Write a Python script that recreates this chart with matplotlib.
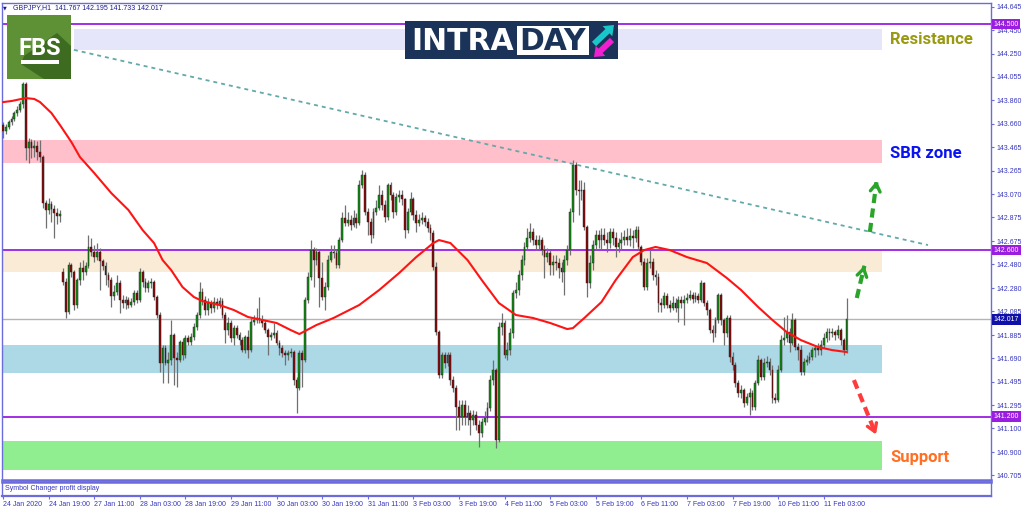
import matplotlib
matplotlib.use('Agg')
import matplotlib.pyplot as plt
from matplotlib.patches import Rectangle, Polygon, FancyArrow
from matplotlib.transforms import blended_transform_factory

plt.rcParams['font.family'] = ['Liberation Sans', 'DejaVu Sans']

# ---------------- data ----------------
symbol_title = "GBPJPY,H1  141.767 142.195 141.733 142.017"
time_labels = ['24 Jan 2020', '24 Jan 19:00', '27 Jan 11:00', '28 Jan 03:00', '28 Jan 19:00',
               '29 Jan 11:00', '30 Jan 03:00', '30 Jan 19:00', '31 Jan 11:00', '3 Feb 03:00',
               '3 Feb 19:00', '4 Feb 11:00', '5 Feb 03:00', '5 Feb 19:00', '6 Feb 11:00',
               '7 Feb 03:00', '7 Feb 19:00', '10 Feb 11:00', '11 Feb 03:00']
label_bars = [0, 16, 32, 48, 64, 80, 96, 112, 128, 144, 160, 176, 192, 208, 224, 240, 256, 272, 288]

gap_opens = {0: 143.651, 21: 142.415}

closes = [
    143.601, 143.634, 143.676, 143.702, 143.752, 143.777, 143.828, 143.996, 143.458, 143.508,
    143.458, 143.475, 143.424, 143.382, 142.995, 142.937, 142.987, 142.945, 142.911, 142.886,
    142.903,
    142.331, 142.079, 142.474, 142.415, 142.138, 142.348, 142.449, 142.415, 142.466, 142.625,
    142.583, 142.541, 142.583, 142.508, 142.466, 142.390, 142.348, 142.214, 142.247, 142.323,
    142.180, 142.155, 142.180, 142.138, 142.163, 142.239, 142.180, 142.415, 142.331, 142.281,
    142.323, 142.331, 142.205, 142.054, 141.650, 141.776, 141.650, 141.675, 141.886, 141.692,
    141.675, 141.827, 141.718, 141.860, 141.827, 141.869, 141.953, 142.054, 142.247, 142.180,
    142.096, 142.155, 142.113, 142.163, 142.138, 142.171, 142.054, 141.928, 141.987, 141.860,
    141.944, 141.886, 141.844, 141.760, 141.869, 141.760, 141.995, 142.012, 142.029, 142.012,
    141.987, 141.928, 141.869, 141.886, 141.903, 141.818, 141.776, 141.734, 141.718, 141.734,
    141.743, 141.507, 141.440,
    141.734, 141.675, 142.180, 142.373, 142.600, 142.516, 142.583, 142.365, 142.205, 142.289,
    142.516, 142.583, 142.575, 142.474, 142.684, 142.869, 142.827, 142.852, 142.810, 142.869,
    142.827, 143.147, 143.231, 142.920, 142.836, 142.726, 142.920, 142.953, 143.063, 142.979,
    142.878, 143.147, 143.063, 142.920, 143.046, 143.063, 143.029, 142.768, 142.920, 143.029,
    142.895, 142.827, 142.852, 142.869, 142.836, 142.785, 142.743, 142.457, 141.911, 141.549,
    141.718, 141.650, 141.718, 141.507, 141.440, 141.280, 141.196, 141.297, 141.196, 141.230,
    141.171, 141.213, 141.129, 141.062, 141.154, 141.188, 141.272, 141.507, 141.591, 141.003,
    141.953, 141.987, 141.718, 141.760, 141.903, 142.239, 142.264, 142.390, 142.516, 142.625,
    142.701, 142.752, 142.684, 142.642, 142.684, 142.600, 142.541, 142.575, 142.474, 142.499,
    142.491, 142.449, 142.415, 142.516, 142.600, 142.920, 143.315, 143.105, 143.096, 143.105,
    142.794, 142.323, 142.491, 142.642, 142.726, 142.684,
    142.726, 142.684, 142.659, 142.752, 142.701, 142.625, 142.659, 142.684, 142.710, 142.684,
    142.718, 142.701, 142.768, 142.625, 142.499, 142.289, 142.491, 142.499, 142.390, 142.373,
    142.155, 142.138, 142.214, 142.138, 142.113, 142.155, 142.113, 142.180, 142.155, 142.180,
    142.197, 142.222, 142.188, 142.214, 142.180, 142.323, 142.155, 142.096, 141.928, 141.903,
    142.012, 142.222, 142.012, 141.903, 142.029, 141.701, 141.633, 141.482, 141.398, 141.423,
    141.314, 141.364, 141.398, 141.280, 141.482, 141.675, 141.533, 141.650, 141.659, 141.591,
    141.356, 141.339, 141.591, 141.844, 141.860, 141.911, 141.818, 142.012, 141.785, 141.760,
    141.575, 141.659, 141.675, 141.701, 141.760, 141.776, 141.760, 141.802, 141.860, 141.911,
    141.903, 141.911, 141.886, 141.928, 141.844, 141.760, 142.017]

highs = [
    143.676, 143.660, 143.693, 143.727, 143.769, 143.811, 143.853, 144.013, 144.013, 143.542,
    143.533, 143.525, 143.517, 143.525, 143.399, 143.021, 143.038, 143.012, 142.979, 142.953,
    142.937,
    142.449, 142.365, 142.499, 142.491, 142.432, 142.365, 142.499, 142.516, 142.499, 142.726,
    142.701, 142.642, 142.659, 142.617, 142.525, 142.499, 142.415, 142.373, 142.306, 142.390,
    142.348, 142.222, 142.214, 142.205, 142.197, 142.264, 142.264, 142.449, 142.432, 142.365,
    142.348, 142.365, 142.348, 142.222, 142.079, 141.802, 141.802, 141.743, 142.012, 141.903,
    141.743, 141.844, 141.860, 141.886, 141.886, 141.903, 141.987, 142.079, 142.331, 142.281,
    142.214, 142.197, 142.180, 142.205, 142.197, 142.205, 142.197, 142.079, 142.037, 142.012,
    141.970, 141.970, 141.911, 141.869, 141.886, 141.928, 142.029, 142.054, 142.113, 142.205,
    142.054, 142.012, 141.944, 141.911, 141.987, 141.928, 141.844, 141.802, 141.760, 141.760,
    141.776, 141.760, 141.533,
    141.760, 141.760, 142.205, 142.415, 142.684, 142.625, 142.617, 142.600, 142.499, 142.331,
    142.558, 142.642, 142.642, 142.600, 142.710, 142.920, 142.979, 142.920, 142.895, 142.937,
    142.911, 143.189, 143.273, 143.256, 142.953, 142.869, 142.953, 143.021, 143.147, 143.105,
    143.021, 143.164, 143.172, 143.088, 143.080, 143.105, 143.105, 143.038, 142.953, 143.088,
    143.046, 142.937, 142.903, 142.920, 142.895, 142.869, 142.819, 142.768, 142.499, 141.928,
    141.743, 141.743, 141.743, 141.743, 141.541, 141.465, 141.339, 141.339, 141.339, 141.297,
    141.255, 141.255, 141.247, 141.171, 141.188, 141.247, 141.322, 141.549, 141.675, 141.608,
    141.995, 142.071, 142.012, 141.827, 141.944, 142.264, 142.331, 142.432, 142.558, 142.667,
    142.785, 142.827, 142.785, 142.726, 142.726, 142.710, 142.642, 142.617, 142.600, 142.558,
    142.558, 142.533, 142.499, 142.558, 142.642, 142.953, 143.357, 143.340, 143.189, 143.189,
    143.172, 142.810, 142.558, 142.684, 142.768, 142.768,
    142.785, 142.785, 142.752, 142.785, 142.785, 142.752, 142.701, 142.752, 142.768, 142.785,
    142.785, 142.768, 142.802, 142.802, 142.642, 142.533, 142.533, 142.600, 142.533, 142.432,
    142.407, 142.197, 142.247, 142.239, 142.180, 142.214, 142.197, 142.214, 142.214, 142.222,
    142.239, 142.264, 142.247, 142.247, 142.239, 142.348, 142.331, 142.180, 142.113, 141.970,
    142.037, 142.239, 142.239, 142.029, 142.054, 142.054, 141.743, 141.659, 141.507, 141.465,
    141.440, 141.398, 141.440, 141.423, 141.507, 141.718, 141.692, 141.692, 141.709, 141.692,
    141.633, 141.398, 141.633, 141.886, 142.037, 142.054, 141.944, 142.071, 142.029, 141.818,
    141.802, 141.692, 141.718, 141.743, 141.785, 141.802, 141.818, 141.844, 141.903, 141.944,
    141.944, 141.944, 141.928, 141.970, 141.944, 141.860, 142.195]

lows = [
    143.542, 143.575, 143.617, 143.651, 143.685, 143.727, 143.760, 143.794, 143.357, 143.332,
    143.374, 143.382, 143.357, 143.340, 142.953, 142.785, 142.903, 142.836, 142.701, 142.819,
    142.836,
    142.306, 142.029, 142.062, 142.373, 142.096, 142.113, 142.306, 142.348, 142.390, 142.449,
    142.550, 142.499, 142.516, 142.264, 142.432, 142.306, 142.289, 142.121, 142.180, 142.222,
    142.071, 142.113, 142.104, 142.113, 142.121, 142.138, 142.155, 142.163, 142.289, 142.247,
    142.247, 142.281, 142.180, 142.029, 141.575, 141.482, 141.633, 141.482, 141.633, 141.465,
    141.448, 141.659, 141.675, 141.692, 141.802, 141.802, 141.844, 141.928, 142.029, 142.138,
    142.054, 142.054, 142.071, 142.079, 142.104, 142.113, 142.029, 141.818, 141.886, 141.827,
    141.802, 141.860, 141.802, 141.743, 141.734, 141.692, 141.743, 141.970, 141.987, 141.987,
    141.953, 141.903, 141.718, 141.844, 141.860, 141.802, 141.718, 141.701, 141.633, 141.675,
    141.701, 141.465, 141.230,
    141.423, 141.448, 141.659, 142.155, 142.348, 142.289, 142.474, 142.121, 142.180, 142.096,
    142.264, 142.499, 142.533, 142.449, 142.449, 142.667, 142.802, 142.802, 142.768, 142.794,
    142.785, 142.810, 143.121, 142.895, 142.726, 142.659, 142.701, 142.895, 142.937, 142.937,
    142.836, 142.852, 143.021, 142.869, 142.895, 143.004, 142.979, 142.701, 142.743, 142.895,
    142.852, 142.752, 142.802, 142.819, 142.802, 142.752, 142.684, 142.432, 141.886, 141.524,
    141.524, 141.608, 141.625, 141.465, 141.406, 141.087, 141.087, 141.129, 141.129, 141.129,
    141.045, 141.129, 141.087, 140.944, 141.028, 141.129, 141.154, 141.247, 141.465, 140.935,
    140.986, 141.886, 141.692, 141.675, 141.718, 141.860, 142.197, 142.222, 142.348, 142.474,
    142.600, 142.667, 142.642, 142.600, 142.600, 142.558, 142.365, 142.499, 142.390, 142.390,
    142.432, 142.365, 142.331, 142.222, 142.474, 142.558, 142.836, 143.063, 142.895, 143.021,
    142.768, 142.205, 142.281, 142.432, 142.600, 142.617,
    142.600, 142.642, 142.583, 142.617, 142.642, 142.541, 142.583, 142.600, 142.642, 142.642,
    142.634, 142.617, 142.667, 142.600, 142.474, 142.264, 142.264, 142.449, 142.348, 142.306,
    142.079, 142.079, 142.113, 142.113, 142.079, 142.096, 142.079, 141.995, 142.113, 141.970,
    142.155, 142.180, 142.155, 142.163, 142.155, 142.163, 142.129, 142.054, 141.903, 141.827,
    141.869, 141.987, 141.970, 141.802, 141.869, 141.659, 141.591, 141.448, 141.364, 141.356,
    141.280, 141.297, 141.213, 141.255, 141.255, 141.465, 141.507, 141.507, 141.617, 141.549,
    141.314, 141.314, 141.322, 141.575, 141.802, 141.827, 141.743, 141.802, 141.760, 141.675,
    141.549, 141.549, 141.633, 141.650, 141.675, 141.701, 141.718, 141.718, 141.776, 141.827,
    141.844, 141.869, 141.844, 141.860, 141.802, 141.718, 141.733]

# moving average (read at selected bars)
ma_bars = [0, 3, 8, 11, 13, 17, 20, 24, 27, 32, 38, 44, 49, 53, 56, 59, 63, 67, 70, 76,
           81, 86, 91, 96, 101, 104, 110, 116, 125, 132, 139, 145, 151, 153, 157, 163, 168, 174, 180, 186,
           192, 198, 200, 204, 210, 215, 221, 225, 229, 234, 240, 247, 254, 259, 265, 270, 275, 280, 286, 291,
           296]
ma_vals = [143.844, 143.853, 143.878, 143.870, 143.844, 143.752, 143.651, 143.508, 143.382, 143.248,
           143.079, 142.937, 142.768, 142.659, 142.516, 142.432, 142.289, 142.205, 142.171, 142.138,
           142.096, 142.037, 142.012, 141.987, 141.927, 141.894, 141.970, 142.029, 142.138, 142.264,
           142.407, 142.541, 142.659, 142.684, 142.659, 142.516, 142.348, 142.155, 142.054, 142.029,
           141.987, 141.936, 141.944, 142.029, 142.163, 142.348, 142.541, 142.600, 142.626, 142.600,
           142.541, 142.491, 142.365, 142.264, 142.121, 142.012, 141.911, 141.843, 141.785, 141.759,
           141.743]

price_ticks = [144.645, 144.450, 144.250, 144.055, 143.860, 143.660, 143.465, 143.265, 143.070,
               142.875, 142.675, 142.480, 142.280, 142.085, 141.885, 141.690, 141.495, 141.295,
               141.100, 140.900, 140.705]
level_lines = [144.500, 142.600, 141.200]
current_price = 142.017

resistance_zone = (144.281, 144.458)
sbr_zone = (143.332, 143.525)
upper_zone = (142.415, 142.592)
lower_zone = (141.566, 141.802)
support_zone = (140.751, 140.995)
zone_start_resistance = 24.9
zone_end = 308.4

trend_bars = [24.9, 324.6]
trend_prices = [144.283, 142.642]

arrow_up1 = [(299.6, 142.197), (302.5, 142.491)]
arrow_up2 = [(304.2, 142.752), (306.7, 143.206)]
arrow_down = [(298.6, 141.507), (306.7, 141.028)]

# ---------------- figure ----------------
W, H = 1024, 511
fig = plt.figure(figsize=(W / 100, H / 100), dpi=100)
fig.patch.set_facecolor('white')

def fr(x0, y0, x1, y1):
    return [x0 / W, 1 - y1 / H, (x1 - x0) / W, (y1 - y0) / H]

axis_col = '#6b6bdb'
lab_col = '#3535c0'

ax = fig.add_axes(fr(2, 3, 991, 480))
XMIN, XMAX = -0.35, 346.7
ax.set_xlim(XMIN, XMAX)
ax.set_ylim(140.667, 144.677)

# zones
def zone(lo_hi, color, x0=XMIN, x1=zone_end):
    ax.fill_between([x0, x1], lo_hi[0], lo_hi[1], color=color, lw=0, zorder=0)

zone(resistance_zone, '#e6e6fa', x0=zone_start_resistance)
zone(sbr_zone, '#ffc0cb')
zone(upper_zone, '#faebd7')
zone(lower_zone, '#add8e6')
zone(support_zone, '#90ee90')

for lv in level_lines:
    ax.axhline(lv, color='#9a1ee0', lw=1.3, zorder=1)
ax.axhline(current_price, color='#b4b4b4', lw=1.0, zorder=1)

# candles
n = len(closes)
opens = []
for i in range(n):
    opens.append(gap_opens[i] if i in gap_opens else closes[i - 1])
xs = list(range(n))
hi = [max(h, o, c) for h, o, c in zip(highs, opens, closes)]
lo = [min(l, o, c) for l, o, c in zip(lows, opens, closes)]
ax.vlines(xs, lo, hi, color='#707070', lw=0.9, zorder=2)
bottoms = [min(o, c) for o, c in zip(opens, closes)]
heights = [max(abs(c - o), 0.004) for o, c in zip(opens, closes)]
cols = ['#109010' if c >= o else '#8b0a0a' for o, c in zip(opens, closes)]
ax.bar(xs, heights, bottom=bottoms, width=0.64, color=cols, edgecolor='#202020',
       linewidth=0.3, zorder=3)

# moving average
ax.plot(ma_bars, ma_vals, color='#ff1414', lw=1.5, zorder=4, solid_capstyle='round')

# trend line
ax.plot(trend_bars, trend_prices, color='#63a9a9', lw=1.3, ls=(0, (2.2, 2.2)), zorder=4)

# dashed arrows
def dashed_arrow(pts, color):
    (x0, y0), (x1, y1) = pts
    ax.plot([x0, x1 - (x1 - x0) * 0.08], [y0, y1 - (y1 - y0) * 0.08], color=color, lw=3,
            ls=(0, (2.2, 1.3)), zorder=6, clip_on=False)
    ax.annotate('', xy=(x1, y1), xytext=(x1 - (x1 - x0) * 0.2, y1 - (y1 - y0) * 0.2),
                arrowprops=dict(arrowstyle='->,head_length=0.55,head_width=0.35', color=color,
                                lw=2.4), zorder=6, annotation_clip=False)

dashed_arrow(arrow_up1, '#2aa52a')
dashed_arrow(arrow_up2, '#2aa52a')
dashed_arrow(arrow_down, '#ff3b3b')

# zone captions
ax.text(311.2, 144.330, 'Resistance', color='#9a9a12', fontsize=12, fontweight='bold',
        family=['Roboto', 'DejaVu Sans'], va='baseline', ha='left', zorder=7, clip_on=False)
ax.text(311.2, 143.371, 'SBR zone', color='#0a14f0', fontsize=12, fontweight='bold',
        family=['Roboto', 'DejaVu Sans'], va='baseline', ha='left', zorder=7, clip_on=False)
ax.text(311.5, 140.816, 'Support', color='#ff6f24', fontsize=12, fontweight='bold',
        family=['Roboto', 'DejaVu Sans'], va='baseline', ha='left', zorder=7, clip_on=False)

# right axis
ax.yaxis.tick_right()
ax.set_yticks(price_ticks)
ax.set_yticklabels([f'{v:.3f}' for v in price_ticks])
ax.tick_params(axis='y', which='both', length=2.5, width=0.8, color=axis_col,
               labelsize=5, labelcolor=lab_col, pad=1.5)
ax.set_xticks([])
for s in ax.spines.values():
    s.set_color(axis_col)
    s.set_linewidth(1.0)
ax.spines['bottom'].set_linewidth(1.8)

tr = blended_transform_factory(ax.transAxes, ax.transData)
for v, fc in [(144.500, '#9a1ee0'), (142.600, '#9a1ee0'), (current_price, '#1010a8'), (141.200, '#9a1ee0')]:
    ax.text(1.0025, v, f'{v:.3f}', transform=tr, fontsize=5, color='white', va='center', ha='left',
            bbox=dict(boxstyle='square,pad=0.25', fc=fc, ec='none'), zorder=8, clip_on=False)

# sub panel
ax2 = fig.add_axes(fr(2, 482, 991, 496))
ax2.set_xlim(XMIN, XMAX)
ax2.set_ylim(0, 1)
ax2.set_yticks([])
ax2.set_xticks(label_bars)
ax2.set_xticklabels(time_labels)
for t in ax2.get_xticklabels():
    t.set_ha('left')
ax2.tick_params(axis='x', length=2.5, width=0.8, color=axis_col, labelsize=5,
                labelcolor=lab_col, pad=1.2)
for s in ax2.spines.values():
    s.set_color(axis_col)
    s.set_linewidth(1.0)
ax2.spines['top'].set_linewidth(1.8)
ax2.spines['bottom'].set_linewidth(1.6)
ax2.text(0.003, 0.5, 'Symbol Changer profit display', transform=ax2.transAxes, fontsize=5,
         color=lab_col, va='center', ha='left')

# overlay (pixel coordinates) for logos and header
ov = fig.add_axes([0, 0, 1, 1], zorder=10)
ov.set_xlim(0, W)
ov.set_ylim(H, 0)
ov.axis('off')
ov.patch.set_alpha(0)

ov.text(5, 7.5, '\u25BC', fontsize=3.5, color='#1a1a90', va='center', ha='center',
        family=['DejaVu Sans'])
ov.text(13, 7.5, symbol_title, fontsize=5, color='#1a1a90', va='center', ha='left')

# FBS logo
ov.add_patch(Rectangle((7, 15), 64, 64, fc='#5e9036', ec='none'))
ov.add_patch(Polygon([(24, 56), (57, 33), (71, 46), (71, 79), (44, 79), (21, 64)],
                     closed=True, fc='#3d6b20', ec='none'))
ov.text(39.5, 55, 'FBS', color='white', fontsize=17, fontweight='bold', ha='center',
        va='baseline', family=['Liberation Sans Narrow', 'Roboto', 'DejaVu Sans'])
ov.add_patch(Rectangle((21, 60.5), 37.5, 3.3, fc='white', ec='none'))

# INTRADAY logo
ov.add_patch(Rectangle((405, 21), 213, 38, fc='#1b3359', ec='none'))
ov.add_patch(Rectangle((517, 26), 72, 29, fc='white', ec='none'))
ov.text(411, 50.5, 'INTRA', color='white', fontsize=21.5, fontweight='bold', ha='left',
        va='baseline', family=['DejaVu Sans'])
ov.text(553, 50.5, 'DAY', color='#1b3359', fontsize=21.5, fontweight='bold', ha='center',
        va='baseline', family=['DejaVu Sans'])
ov.add_patch(FancyArrow(594, 44, 20, -19, width=6, head_width=14, head_length=9,
                        length_includes_head=True, fc='#19c6c9', ec='none'))
ov.add_patch(FancyArrow(612, 40, -18, 17, width=6, head_width=14, head_length=9,
                        length_includes_head=True, fc='#f01fcf', ec='none'))

fig.savefig('out.png', dpi=100, facecolor='white')
